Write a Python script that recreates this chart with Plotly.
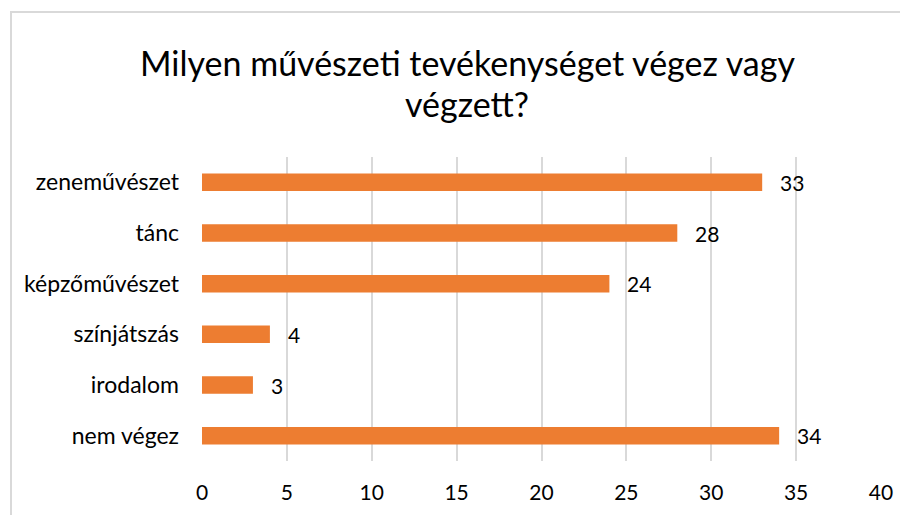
import plotly.graph_objects as go

categories = ["zeneművészet", "tánc", "képzőművészet", "színjátszás", "irodalom", "nem végez"]
values = [33, 28, 24, 4, 3, 34]
x_ticks = [0, 5, 10, 15, 20, 25, 30, 35, 40]
title_lines = ["Milyen művészeti tevékenységet végez vagy", "végzett?"]

FONT = "Lato"
OFF = 8  # page body margin
W, H = 908 - OFF, 515 - OFF
ML, MR, MT, MB = 202 - OFF, 27, 157 - OFF, 54
PW = W - ML - MR
PH = H - MT - MB


def px_x(px):
    return (px - OFF - ML) / PW


def px_y(py):
    return (H - MB - (py - OFF)) / PH


fig = go.Figure(go.Bar(
    x=values, y=categories, orientation="h",
    marker=dict(color="#ED7D31", line=dict(width=0)),
    width=0.345,
))

for c, v in zip(categories, values):
    fig.add_annotation(x=v, y=c, text=str(v), showarrow=False,
                       xanchor="left", xshift=16,
                       font=dict(family=FONT, size=21, color="#000000"))

for line, yc in zip(title_lines, [62, 103]):
    fig.add_annotation(xref="paper", yref="paper", x=px_x(467), y=px_y(yc),
                       text=line, showarrow=False, xanchor="center", yanchor="middle",
                       font=dict(family=FONT, size=34, color="#000000"))

fig.add_shape(type="rect", xref="paper", yref="paper",
              x0=px_x(11), x1=2, y0=-1, y1=px_y(12),
              line=dict(color="#D9D9D9", width=2), fillcolor="rgba(0,0,0,0)", layer="below")

fig.update_layout(
    width=W, height=H,
    margin=dict(l=ML, r=MR, t=MT, b=MB),
    paper_bgcolor="white", plot_bgcolor="white",
    showlegend=False,
    xaxis=dict(range=[0, 40], tickvals=x_ticks, showgrid=True, gridcolor="#D9D9D9",
               gridwidth=2, zeroline=False, showline=False, ticks="",
               tickfont=dict(family=FONT, size=21, color="#000000"),
               ticklabelstandoff=17, fixedrange=True),
    yaxis=dict(categoryorder="array", categoryarray=categories[::-1],
               showgrid=False, zeroline=False, showline=False, ticks="",
               tickfont=dict(family=FONT, size=23, color="#000000"),
               ticklabelstandoff=22, range=[-0.5, 5.5]),
)

fig.write_html("out.html")
